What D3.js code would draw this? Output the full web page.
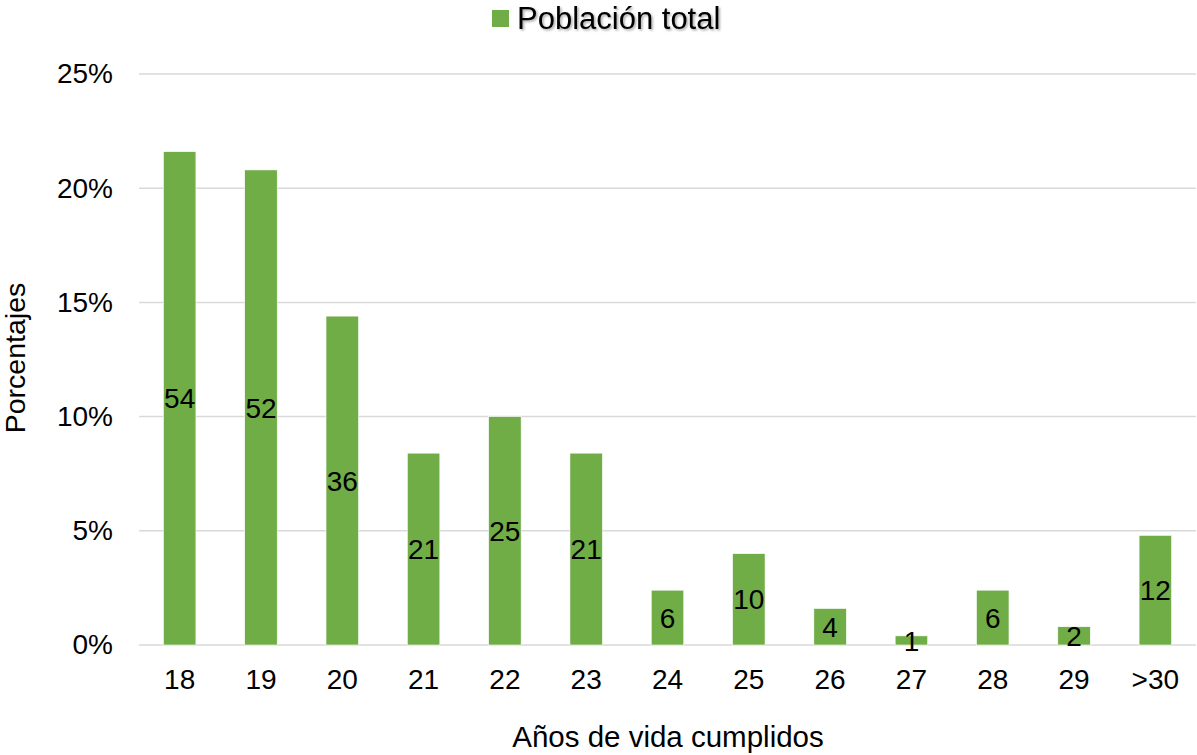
<!DOCTYPE html>
<html>
<head>
<meta charset="utf-8">
<script src="https://cdn.jsdelivr.net/npm/d3@7"></script>
<style>
  body { margin: 0; background: #fff; }
  text { font-family: "Liberation Sans", Arial, sans-serif; fill: #000; }
</style>
</head>
<body>
<div id="chart"></div>
<script>
// age groups and counts (n = 250)
const categories = ["18", "19", "20", "21", "22", "23", "24", "25", "26", "27", "28", "29", ">30"];
const counts = [54, 52, 36, 21, 25, 21, 6, 10, 4, 1, 6, 2, 12];
const percents = [0.216, 0.208, 0.144, 0.084, 0.10, 0.084, 0.024, 0.04, 0.016, 0.004, 0.024, 0.008, 0.048];
const yTicks = [0, 0.05, 0.10, 0.15, 0.20, 0.25];
const seriesName = "Población total";

var svgWidth = 1197, svgHeight = 755;
var margin = {top: 74, right: 1, bottom: 110, left: 139};
var width = svgWidth - margin.left - margin.right;
var height = svgHeight - margin.top - margin.bottom;
var barColour = "#70ad47";

var svg = d3.select("#chart").append("svg")
    .attr("width", svgWidth)
    .attr("height", svgHeight);

var defs = svg.append("defs");
var shadow = defs.append("filter").attr("id", "txtShadow")
    .attr("x", "-5%").attr("y", "-20%").attr("width", "110%").attr("height", "140%");
shadow.append("feDropShadow")
    .attr("dx", 1.5).attr("dy", 1.5).attr("stdDeviation", 1)
    .attr("flood-color", "#000").attr("flood-opacity", 0.35);

var plotArea = svg.append("g")
    .attr("transform", "translate(" + margin.left + "," + margin.top + ")");

var xscale = d3.scaleBand()
    .domain(categories)
    .range([0, width])
    .paddingInner(0.6)
    .paddingOuter(0.3);

var yscale = d3.scaleLinear()
    .domain([0, 0.25])
    .range([height, 0]);

// gridlines
plotArea.selectAll(".grid")
    .data(yTicks)
    .enter().append("line")
    .attr("class", "grid")
    .attr("x1", 0)
    .attr("x2", width)
    .attr("y1", d => yscale(d))
    .attr("y2", d => yscale(d))
    .style("stroke", "#d9d9d9")
    .style("stroke-width", 1.5);

// y axis
var yAxis = d3.axisLeft(yscale)
    .tickValues(yTicks)
    .tickFormat(d3.format(".0%"))
    .tickSize(0)
    .tickPadding(26);

var gY = plotArea.append("g").call(yAxis);
gY.select(".domain").remove();
gY.selectAll("text")
    .style("font-size", "28px")
    .style("font-family", "'Liberation Sans', Arial, sans-serif")
    .attr("fill", "#000");

// x axis
var xAxis = d3.axisBottom(xscale)
    .tickSize(0)
    .tickPadding(24);

var gX = plotArea.append("g")
    .attr("transform", "translate(0," + height + ")")
    .call(xAxis);
gX.select(".domain").remove();
gX.selectAll("text")
    .style("font-size", "28px")
    .style("font-family", "'Liberation Sans', Arial, sans-serif")
    .attr("fill", "#000");

// bars
var barData = categories.map((c, i) => ({ cat: c, p: percents[i], n: counts[i] }));

plotArea.selectAll(".bar")
    .data(barData)
    .enter().append("rect")
    .attr("class", "bar")
    .attr("x", d => xscale(d.cat))
    .attr("y", d => yscale(d.p))
    .attr("width", xscale.bandwidth())
    .attr("height", d => height - yscale(d.p))
    .style("fill", barColour)
    .style("stroke", "#fff")
    .style("stroke-width", 0.6);

// count labels, centred in each bar
plotArea.selectAll(".lbl")
    .data(barData)
    .enter().append("text")
    .attr("class", "lbl")
    .attr("x", d => xscale(d.cat) + xscale.bandwidth() / 2)
    .attr("y", d => (yscale(d.p) + height) / 2)
    .attr("dy", "0.36em")
    .attr("text-anchor", "middle")
    .style("font-size", "28px")
    .text(d => d.n);

// axis titles
svg.append("text")
    .attr("x", 668)
    .attr("y", 747)
    .attr("text-anchor", "middle")
    .style("font-size", "29.5px")
    .text("Años de vida cumplidos");

svg.append("text")
    .attr("transform", "translate(25,358) rotate(-90)")
    .attr("text-anchor", "middle")
    .style("font-size", "28.5px")
    .text("Porcentajes");

// legend
var legend = svg.append("g");
legend.append("rect")
    .attr("x", 492)
    .attr("y", 10)
    .attr("width", 17)
    .attr("height", 17)
    .style("fill", barColour);
legend.append("text")
    .attr("x", 517)
    .attr("y", 29)
    .style("font-size", "31px")
    .attr("filter", "url(#txtShadow)")
    .text(seriesName);
</script>
</body>
</html>
